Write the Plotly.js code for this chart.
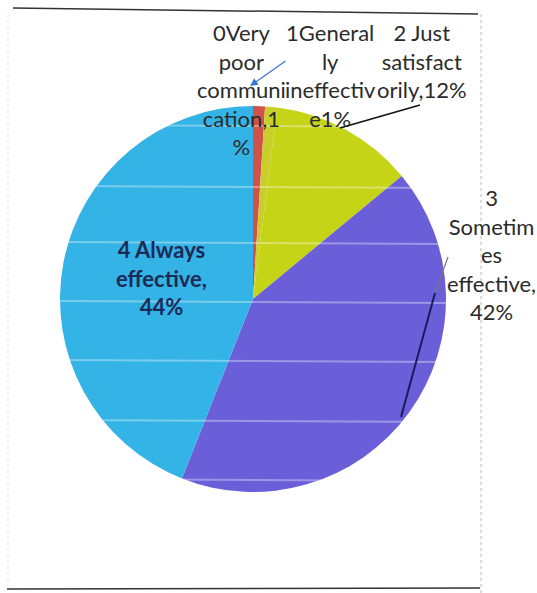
<!DOCTYPE html>
<html>
<head>
<meta charset="utf-8">
<script src="https://cdn.plot.ly/plotly-3.0.1.min.js"></script>
<style>
html,body{margin:0;padding:0;background:#fff;}
#chart{width:537px;height:593px;}
</style>
</head>
<body>
<div id="chart"></div>
<script>
// Data
var categories = ["0Very poor communication", "1Generally ineffective", "2 Just satisfactorily", "3 Sometimes effective", "4 Always effective"];
var values = [1, 1, 12, 42, 44];
var sliceColors = ["#d0524a", "#c9cf2a", "#c6d418", "#6a5fd8", "#33b3e6"];
// Label text as wrapped in the chart
var labelLines = [
  ["0Very", "poor", "communi", "cation,1", "%"],
  ["1General", "ly", "ineffectiv", "e1%"],
  ["2 Just", "satisfact", "orily,12%"],
  ["3", "Sometim", "es", "effective,", "42%"],
  ["4 Always", "effective,", "44%"]
];

var W = 537, H = 593;
function px(x){ return x / W; }
function py(y){ return 1 - y / H; }

var cx = 253, cy = 299, r = 193;

var trace = {
  type: "pie",
  labels: categories,
  values: values,
  sort: false,
  direction: "clockwise",
  rotation: 0,
  textinfo: "none",
  hoverinfo: "label+percent",
  marker: { colors: sliceColors, line: { width: 0 } },
  showlegend: false,
  domain: { x: [px(cx - r), px(cx + r)], y: [py(cy + r), py(cy - r)] }
};

var fontFam = "Lato, 'Open Sans', sans-serif";
var labelPos = [
  { x: 241, y: 17, color: "#2b2b2b" },
  { x: 330, y: 17, color: "#2b2b2b" },
  { x: 422, y: 17, color: "#2b2b2b" },
  { x: 491, y: 182, color: "#2b2b2b" },
  { x: 161, y: 234, color: "#1c2a55" }
];

var annotations = labelLines.map(function(lines, i){
  return {
    xref: "paper", yref: "paper",
    x: px(labelPos[i].x), y: py(labelPos[i].y),
    xanchor: "center", yanchor: "top",
    text: lines.join("<br>"),
    showarrow: false,
    align: "center",
    font: { family: fontFam, size: 22, color: labelPos[i].color, weight: i === 4 ? 700 : 400 }
  };
});

// blue hand-drawn arrow for label 0
annotations.push({
  xref: "paper", yref: "paper",
  x: px(250), y: py(86),
  ax: 37, ay: -26,
  text: "", showarrow: true,
  arrowhead: 2, arrowsize: 1.2, arrowwidth: 1.3, arrowcolor: "#3a78d0"
});

var shapes = [
  // frame
  { type: "line", xref: "paper", yref: "paper", x0: px(13), y0: py(8), x1: px(478), y1: py(14), line: { color: "#333", width: 1.5 } },
  { type: "line", xref: "paper", yref: "paper", x0: px(7), y0: py(589), x1: px(480), y1: py(588), line: { color: "#333", width: 1.5 } },
  { type: "line", xref: "paper", yref: "paper", x0: px(481), y0: py(14), x1: px(481), y1: py(593), line: { color: "#bbb", width: 1, dash: "dot" } },
  { type: "line", xref: "paper", yref: "paper", x0: px(8), y0: py(14), x1: px(8), y1: py(585), line: { color: "#e4e4e4", width: 1, dash: "dot" } }
];
// faint scan stripes across the pie
[125, 186, 242, 301, 360, 420, 479].forEach(function(y){
  shapes.push({ type: "line", xref: "paper", yref: "paper", x0: px(cx - r), y0: py(y), x1: px(cx + r), y1: py(y + 2),
    line: { color: "rgba(255,255,255,0.35)", width: 2 } });
});
shapes.push(
  // leader line label 2
  { type: "line", xref: "paper", yref: "paper", x0: px(420), y0: py(105), x1: px(340), y1: py(128), line: { color: "#111", width: 1.5 } },
  // leader line label 3
  { type: "line", xref: "paper", yref: "paper", x0: px(448), y0: py(257), x1: px(435), y1: py(293), line: { color: "#777", width: 1.2 } },
  { type: "line", xref: "paper", yref: "paper", x0: px(435), y0: py(293), x1: px(401), y1: py(417), line: { color: "#1a1a60", width: 2 } }
);

var layout = {
  width: W, height: H,
  margin: { l: 0, r: 0, t: 0, b: 0 },
  paper_bgcolor: "#ffffff",
  plot_bgcolor: "#ffffff",
  annotations: annotations,
  shapes: shapes,
  showlegend: false
};

Plotly.newPlot("chart", [trace], layout, { displayModeBar: false, staticPlot: true });
</script>
</body>
</html>
